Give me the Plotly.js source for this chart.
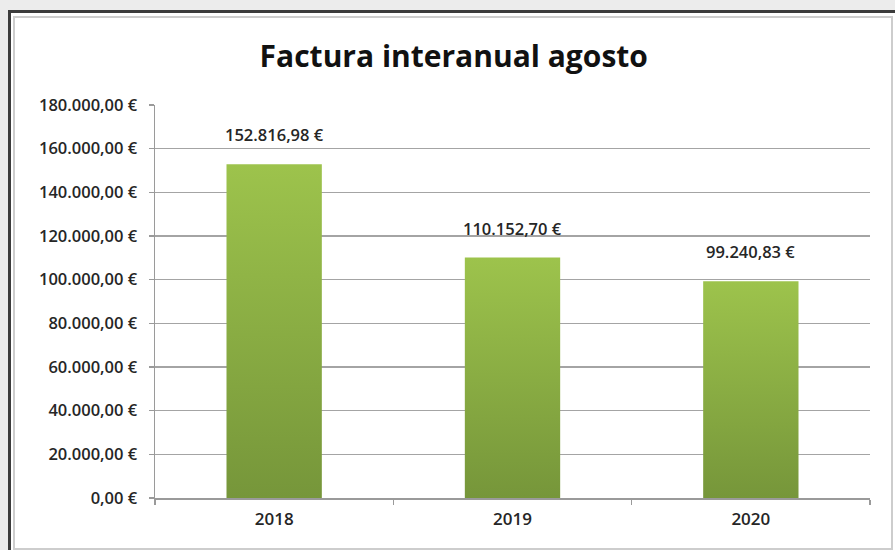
<!DOCTYPE html>
<html><head><meta charset="utf-8">
<script src="https://cdn.plot.ly/plotly-3.0.1.min.js"></script>
<style>
html,body{margin:0;padding:0;background:#ececec;width:895px;height:550px;overflow:hidden}
#frame{position:absolute;left:8px;top:10px;width:900px;height:560px;border-left:3px solid #3c3c3c;border-top:3px solid #3c3c3c;background:#fff;box-sizing:border-box}
#inner{position:absolute;left:13px;top:16px;width:880px;height:534px;border:2px solid #cdcdcd;box-sizing:border-box;background:#fff}
#chart{position:absolute;left:0;top:0;width:895px;height:550px}
</style></head>
<body>
<div id="frame"></div>
<div id="inner"></div>
<div id="chart"></div>
<script>
const years = ['2018', '2019', '2020'];
const values = [152816.98, 110152.70, 99240.83];
const valueLabels = ['152.816,98 €', '110.152,70 €', '99.240,83 €'];
const tickValues = [0, 20000, 40000, 60000, 80000, 100000, 120000, 140000, 160000, 180000];
const tickLabels = ['0,00 €', '20.000,00 €', '40.000,00 €', '60.000,00 €', '80.000,00 €',
  '100.000,00 €', '120.000,00 €', '140.000,00 €', '160.000,00 €', '180.000,00 €'];

const font = 'Open Sans, Noto Sans, sans-serif';
const trace = {
  type: 'bar', x: years, y: values,
  marker: {color: '#8aae45', line: {width: 0}},
  hoverinfo: 'none'
};
const annotations = years.map((yr, i) => ({
  x: i, y: values[i], text: valueLabels[i], showarrow: false,
  xref: 'x', yref: 'y', yanchor: 'bottom', yshift: 16,
  font: {family: font, size: 16.5, color: '#262626', weight: 600}
}));
const layout = {
  width: 895, height: 550,
  paper_bgcolor: 'rgba(0,0,0,0)', plot_bgcolor: 'rgba(0,0,0,0)',
  margin: {l: 155, r: 25, t: 105, b: 52},
  bargap: 0.6,
  showlegend: false,
  title: {text: 'Factura interanual agosto', x: 0.507, xanchor: 'center', y: 0.897, yanchor: 'middle',
    font: {family: font, size: 30, color: '#111', weight: 700}},
  xaxis: {
    type: 'category', categoryarray: years, range: [-0.5, 2.5], autorange: false,
    showgrid: false, showline: true, linecolor: '#9a9a9a', linewidth: 1.5,
    ticks: 'outside', tickson: 'boundaries', ticklen: 5, tickcolor: '#9a9a9a', tickwidth: 1.5,
    tickangle: 0, ticklabelstandoff: 5,
    tickfont: {family: font, size: 17, color: '#262626', weight: 600}
  },
  yaxis: {
    range: [0, 180000], autorange: false, tickvals: tickValues, ticktext: tickLabels,
    showgrid: true, gridcolor: '#a4a4a4', gridwidth: 1.6, zeroline: false,
    showline: true, linecolor: '#9a9a9a', linewidth: 1.5,
    ticks: 'outside', ticklen: 5, tickcolor: '#9a9a9a', tickwidth: 1.5,
    ticklabelstandoff: 8,
    tickfont: {family: font, size: 16.5, color: '#262626', weight: 600}
  },
  annotations: annotations
};
Plotly.newPlot('chart', [trace], layout, {staticPlot: true}).then(gd => {
  const svg = gd.querySelector('.main-svg');
  const ns = 'http://www.w3.org/2000/svg';
  let defs = svg.querySelector('defs');
  if (!defs) { defs = document.createElementNS(ns, 'defs'); svg.insertBefore(defs, svg.firstChild); }
  const g = document.createElementNS(ns, 'linearGradient');
  g.setAttribute('id', 'barGrad');
  g.setAttribute('x1', '0'); g.setAttribute('y1', '0'); g.setAttribute('x2', '0'); g.setAttribute('y2', '1');
  [['0', '#9dc34c'], ['1', '#76963a']].forEach(([o, c]) => {
    const s = document.createElementNS(ns, 'stop');
    s.setAttribute('offset', o); s.setAttribute('stop-color', c);
    g.appendChild(s);
  });
  defs.appendChild(g);
  gd.querySelectorAll('.bars .point path').forEach(p => { p.style.fill = 'url(#barGrad)'; });
});
</script>
</body></html>
